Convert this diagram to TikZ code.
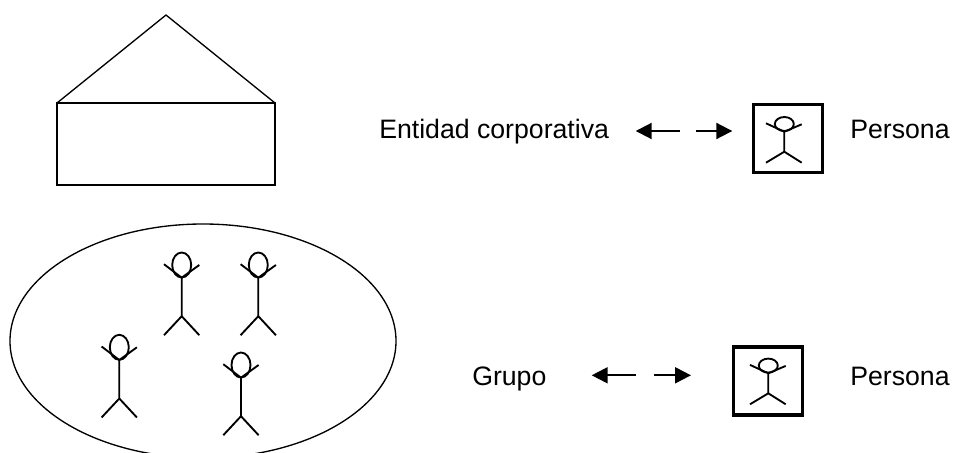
\documentclass[tikz,border=0pt]{standalone}
\usepackage{fontspec}
\setmainfont{Liberation Sans}
\usetikzlibrary{arrows.meta}
\tikzset{
  x=0.75pt,y=-0.75pt,
  outline/.style={draw=black,line width=1pt},
  thick box/.style={draw=black,line width=2.4pt},
  limb/.style={draw=black,line width=1.4pt,line join=round},
  label text/.style={font=\fontsize{20pt}{24pt}\selectfont,inner sep=0pt,anchor=base west},
  link/.style={draw=black,line width=1.5pt,-{Triangle[length=12pt,width=12pt]}},
  bigman/.pic={
    \draw[limb] (0,-12.7) ellipse [x radius=9.5,y radius=12.5];
    \draw[limb] (-17.7,-13.5) -- (0,0) -- (17.6,-12.7);
    \draw[limb] (0,0) -- (0,38.5) (-17.7,57.5) -- (0,38.5) -- (17.6,57.5);
  },
  smallman/.pic={
    \draw[limb] (0,-7.7) ellipse [x radius=9.5,y radius=7];
    \draw[limb] (-18.3,-8.4) -- (0,0) -- (17.4,-7.4);
    \draw[limb] (0,0) -- (0,20) (-18.3,31) -- (0,20) -- (17.4,31);
  }
}
\begin{document}
\begin{tikzpicture}
\useasboundingbox (0,0) rectangle (953,453);
\clip (0,0) rectangle (953,453);
% house
\draw[outline] (57,103) -- (275,103) -- (275,185) -- (57,185) -- cycle;
\draw[outline,line join=round] (57,103) -- (166,15) -- (275,103);
% group
\draw[outline] (203,341) ellipse [x radius=193,y radius=117];
\pic at (181.7,277.7) {bigman};
\pic at (258.3,277.7) {bigman};
\pic at (119.3,360) {bigman};
\pic at (241,377.7) {bigman};
% top row
\node[label text] (ent) at (379,138) {Entidad corporativa};
\coordinate (a1s) at (680,131); \coordinate (a1e) at (635.7,131);
\coordinate (a2s) at (696,131); \coordinate (a2e) at (732.3,131);
\draw[link] (a1s) -- (a1e);
\draw[link] (a2s) -- (a2e);
\draw[thick box] (753.5,104.5) rectangle (822.5,172.5);
\pic at (784.3,131.7) {smallman};
\node[label text] (per1) at (850,138) {Persona};
% bottom row
\node[label text] (gru) at (472,385) {Grupo};
\coordinate (b1s) at (636,375.3); \coordinate (b1e) at (591.7,375.3);
\coordinate (b2s) at (654.3,375.3); \coordinate (b2e) at (691,375.3);
\draw[link] (b1s) -- (b1e);
\draw[link] (b2s) -- (b2e);
\draw[thick box] (733.5,347) rectangle (802.5,415);
\pic at (768.3,373.3) {smallman};
\node[label text] (per2) at (850,385) {Persona};
\end{tikzpicture}
\end{document}
